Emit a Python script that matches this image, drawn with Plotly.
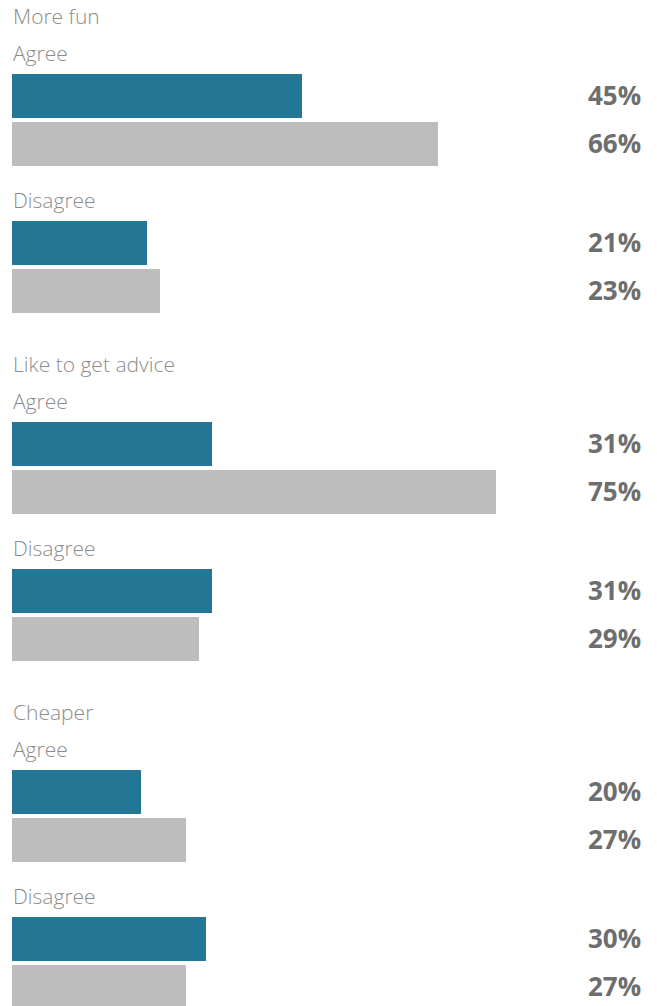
import plotly.graph_objects as go

questions = ["More fun", "Like to get advice", "Cheaper"]
responses = ["Agree", "Disagree"]
series_a = [45, 21, 31, 31, 20, 30]   # teal
series_b = [66, 23, 75, 29, 27, 27]   # gray

TEAL = "#237795"
GRAY = "#bdbdbd"
LABEL_COLOR = "#8c8c8c"
VALUE_COLOR = "#6e6e6e"

# layout geometry (pixel-like units on a reversed y axis)
Q_STEP = 348
R_STEP = 147
S_STEP = 48
FIRST_BAR = 96
BAR_H = 44

def bar_y(q, r, s):
    return FIRST_BAR + Q_STEP * q + R_STEP * r + S_STEP * s

ya, yb = [], []
for q in range(len(questions)):
    for r in range(len(responses)):
        ya.append(bar_y(q, r, 0))
        yb.append(bar_y(q, r, 1))

fig = go.Figure()
fig.add_trace(go.Bar(x=series_a, y=ya, orientation="h", width=BAR_H,
                     marker=dict(color=TEAL, line=dict(width=0)), hoverinfo="skip"))
fig.add_trace(go.Bar(x=series_b, y=yb, orientation="h", width=BAR_H,
                     marker=dict(color=GRAY, line=dict(width=0)), hoverinfo="skip"))

annotations = []
label_font = dict(family="Open Sans", size=21, color=LABEL_COLOR, weight=300)
value_font = dict(family="Open Sans", size=26, color=VALUE_COLOR, weight=700)
for q, qt in enumerate(questions):
    annotations.append(dict(text=qt, x=0, xref="paper", xanchor="left", xshift=-1,
                            y=bar_y(q, 0, 0) - 80, yref="y", yanchor="middle",
                            showarrow=False, font=label_font))
    for r, rt in enumerate(responses):
        annotations.append(dict(text=rt, x=0, xref="paper", xanchor="left", xshift=-1,
                                y=bar_y(q, r, 0) - 43, yref="y", yanchor="middle",
                                showarrow=False, font=label_font))
for vals, ys in ((series_a, ya), (series_b, yb)):
    for v, y in zip(vals, ys):
        annotations.append(dict(text=f"{v}%", x=631 / 645, xref="paper", xanchor="right",
                                y=y - 1.5, yref="y", yanchor="middle",
                                showarrow=False, font=value_font))

fig.update_layout(
    width=657, height=1006,
    margin=dict(l=12, r=0, t=0, b=0),
    paper_bgcolor="white", plot_bgcolor="white",
    showlegend=False,
    bargap=0,
    xaxis=dict(range=[0, 100], visible=False, fixedrange=True),
    yaxis=dict(range=[1006, 0], visible=False, fixedrange=True),
    annotations=annotations,
)

fig.write_html("out.html")
